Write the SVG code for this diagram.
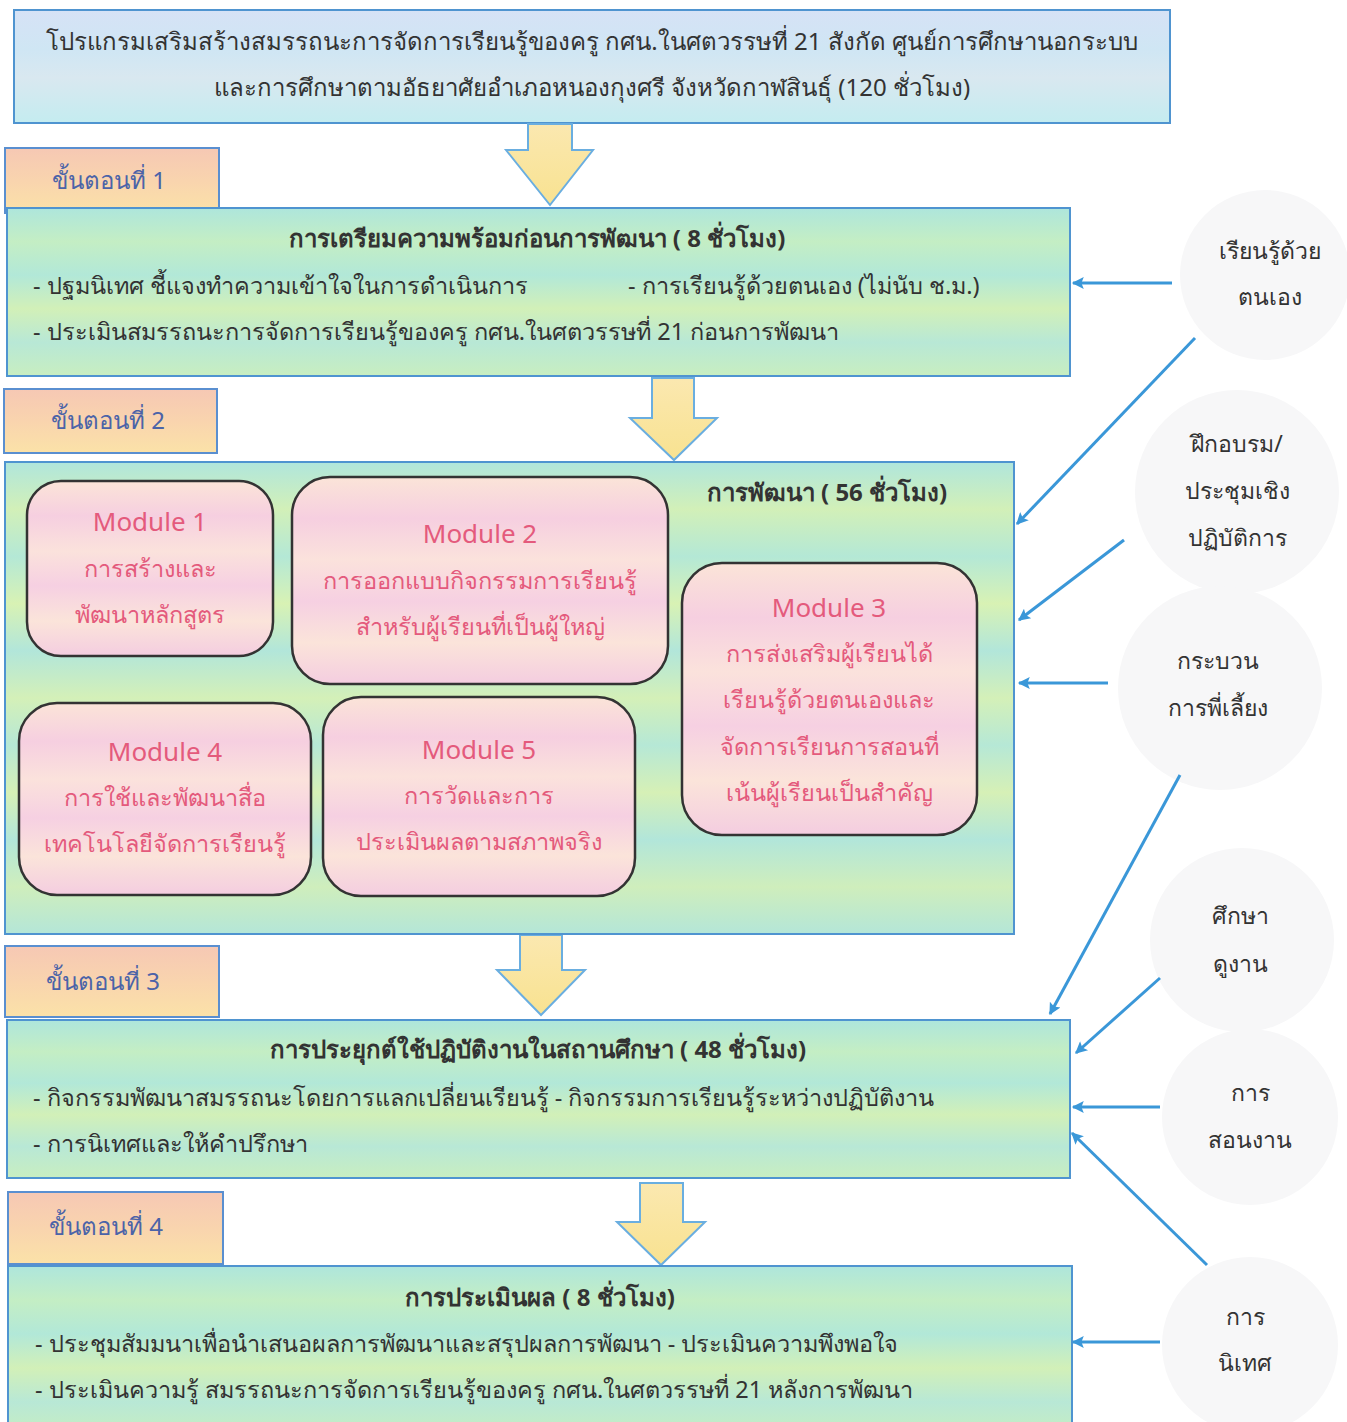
<svg xmlns="http://www.w3.org/2000/svg" width="1347" height="1422" viewBox="0 0 1347 1422">
<defs>
<linearGradient id="gTitle" x1="0" y1="0" x2="0" y2="1">
<stop offset="0" stop-color="#d6e2f6"/><stop offset="0.35" stop-color="#cfe6f4"/><stop offset="0.6" stop-color="#d9e8f0"/><stop offset="1" stop-color="#c4ecf0"/>
</linearGradient>
<linearGradient id="gBox" x1="0" y1="0" x2="0" y2="1">
<stop offset="0" stop-color="#aee6dc"/><stop offset="0.2" stop-color="#c4eec4"/><stop offset="0.4" stop-color="#b2e8d8"/><stop offset="0.6" stop-color="#d2f0b8"/><stop offset="0.8" stop-color="#b8e8d6"/><stop offset="1" stop-color="#c8eec0"/>
</linearGradient>
<linearGradient id="gBig" x1="0" y1="0" x2="0" y2="1">
<stop offset="0" stop-color="#b0e6dc"/><stop offset="0.1" stop-color="#d2f0b8"/><stop offset="0.2" stop-color="#b4e8d6"/><stop offset="0.3" stop-color="#d8f2b4"/><stop offset="0.4" stop-color="#b2e6da"/><stop offset="0.5" stop-color="#d4f0b8"/><stop offset="0.6" stop-color="#b6e8d6"/><stop offset="0.7" stop-color="#d6f0b6"/><stop offset="0.8" stop-color="#b2e6da"/><stop offset="0.9" stop-color="#cfeebc"/><stop offset="1" stop-color="#b4e6d8"/>
</linearGradient>
<linearGradient id="gMod" x1="0" y1="0" x2="0" y2="1">
<stop offset="0" stop-color="#fbe4d8"/><stop offset="0.2" stop-color="#f6cfe0"/><stop offset="0.4" stop-color="#fbe2dc"/><stop offset="0.6" stop-color="#f6d0e2"/><stop offset="0.8" stop-color="#fbe4da"/><stop offset="1" stop-color="#f4cde0"/>
</linearGradient>
<linearGradient id="gStage" x1="0" y1="0" x2="0" y2="1">
<stop offset="0" stop-color="#f6c8b4"/><stop offset="0.5" stop-color="#f9d4ae"/><stop offset="1" stop-color="#fbe2a8"/>
</linearGradient>
<linearGradient id="gArrow" x1="0" y1="0" x2="0" y2="1">
<stop offset="0" stop-color="#fbe8b0"/><stop offset="1" stop-color="#f8e290"/>
</linearGradient>
<marker id="ah2" viewBox="0 0 10 10" refX="9" refY="5" markerWidth="16" markerHeight="12" orient="auto" markerUnits="userSpaceOnUse">
<path d="M0,0 L10,5 L0,10 L2,5 z" fill="#3a97d8"/>
</marker>
</defs>
<style>
text{font-family:"Noto Sans","DejaVu Sans",sans-serif;}
.box{fill:url(#gBox);stroke:#4f94d0;stroke-width:2;}
.big{fill:url(#gBig);stroke:#4f94d0;stroke-width:2;}
.ttl{fill:url(#gTitle);stroke:#4f94d0;stroke-width:2;}
.stage{fill:url(#gStage);stroke:#5a8fd0;stroke-width:2;}
.mod{fill:url(#gMod);stroke:#333;stroke-width:2.5;}
.bar{fill:url(#gArrow);stroke:#6aaee0;stroke-width:2;}
.circ{fill:#f7f7f8;}
.t{font-size:23.5px;fill:#333;}
.tc{font-size:24px;fill:#333;text-anchor:middle;}
.h{font-size:24px;font-weight:bold;fill:#333;text-anchor:middle;}
.st{font-size:24px;fill:#4b63a8;}
.mt{font-size:23.5px;fill:#e45a7c;text-anchor:middle;}
.mh{font-size:26px;fill:#e45a7c;text-anchor:middle;}
.ct{font-size:23px;fill:#333;text-anchor:middle;}
.con{stroke:#3a97d8;stroke-width:3;fill:none;marker-end:url(#ah2);}
</style>
<rect width="1347" height="1422" fill="#ffffff"/>

<g id="title">
<rect class="ttl" x="14" y="10" width="1156" height="113"/>
<text class="tc" x="592" y="50">โปรแกรมเสริมสร้างสมรรถนะการจัดการเรียนรู้ของครู กศน.ในศตวรรษที่ 21 สังกัด ศูนย์การศึกษานอกระบบ</text>
<text class="tc" x="592" y="96">และการศึกษาตามอัธยาศัยอำเภอหนองกุงศรี จังหวัดกาฬสินธุ์  (120 ชั่วโมง)</text>
</g>

<g id="flow-arrows">
<path class="bar" d="M528,124 L572,124 L572,150 L593,150 L550,205 L506,150 L528,150 z"/>
<path class="bar" d="M652,378 L694,378 L694,418 L717,418 L674,460 L630,418 L652,418 z"/>
<path class="bar" d="M520,935 L562,935 L562,970 L585,970 L541,1015 L497,970 L520,970 z"/>
<path class="bar" d="M640,1183 L683,1183 L683,1222 L705,1222 L661,1265 L617,1222 L640,1222 z"/>
</g>

<g id="stage1-label">
<rect class="stage" x="5" y="148" width="214" height="65"/>
<text class="st" x="52" y="189">ขั้นตอนที่ 1</text>
</g>
<g id="stage1">
<rect class="box" x="7" y="208" width="1063" height="168"/>
<text class="h" x="537" y="247">การเตรียมความพร้อมก่อนการพัฒนา ( 8 ชั่วโมง)</text>
<text class="t" x="33" y="294">- ปฐมนิเทศ ชี้แจงทำความเข้าใจในการดำเนินการ</text>
<text class="t" x="628" y="294">- การเรียนรู้ด้วยตนเอง (ไม่นับ ช.ม.)</text>
<text class="t" x="33" y="340">- ประเมินสมรรถนะการจัดการเรียนรู้ของครู กศน.ในศตวรรษที่ 21 ก่อนการพัฒนา</text>
</g>

<g id="stage2-label">
<rect class="stage" x="4" y="389" width="213" height="64"/>
<text class="st" x="51" y="429">ขั้นตอนที่ 2</text>
</g>
<g id="stage2">
<rect class="big" x="5" y="462" width="1009" height="472"/>
<text class="h" x="827" y="501">การพัฒนา ( 56 ชั่วโมง)</text>
</g>
<g id="module1">
<rect class="mod" x="27" y="481" width="246" height="175" rx="34"/>
<text class="mh" x="150" y="531">Module 1</text>
<text class="mt" x="150" y="577">การสร้างและ</text>
<text class="mt" x="150" y="623">พัฒนาหลักสูตร</text>
</g>
<g id="module2">
<rect class="mod" x="292" y="477" width="376" height="207" rx="38"/>
<text class="mh" x="480" y="543">Module 2</text>
<text class="mt" x="480" y="589">การออกแบบกิจกรรมการเรียนรู้</text>
<text class="mt" x="480" y="635">สำหรับผู้เรียนที่เป็นผู้ใหญ่</text>
</g>
<g id="module3">
<rect class="mod" x="682" y="563" width="295" height="272" rx="40"/>
<text class="mh" x="829" y="617">Module 3</text>
<text class="mt" x="829" y="662">การส่งเสริมผู้เรียนได้</text>
<text class="mt" x="829" y="708">เรียนรู้ด้วยตนเองและ</text>
<text class="mt" x="829" y="755">จัดการเรียนการสอนที่</text>
<text class="mt" x="829" y="801">เน้นผู้เรียนเป็นสำคัญ</text>
</g>
<g id="module4">
<rect class="mod" x="19" y="703" width="292" height="192" rx="38"/>
<text class="mh" x="165" y="761">Module 4</text>
<text class="mt" x="165" y="806">การใช้และพัฒนาสื่อ</text>
<text class="mt" x="165" y="852">เทคโนโลยีจัดการเรียนรู้</text>
</g>
<g id="module5">
<rect class="mod" x="323" y="697" width="312" height="199" rx="38"/>
<text class="mh" x="479" y="759">Module 5</text>
<text class="mt" x="479" y="804">การวัดและการ</text>
<text class="mt" x="479" y="850">ประเมินผลตามสภาพจริง</text>
</g>

<g id="stage3-label">
<rect class="stage" x="5" y="946" width="214" height="71"/>
<text class="st" x="46" y="990">ขั้นตอนที่ 3</text>
</g>
<g id="stage3">
<rect class="box" x="7" y="1020" width="1063" height="158"/>
<text class="h" x="538" y="1058">การประยุกต์ใช้ปฏิบัติงานในสถานศึกษา ( 48 ชั่วโมง)</text>
<text class="t" x="33" y="1106">- กิจกรรมพัฒนาสมรรถนะโดยการแลกเปลี่ยนเรียนรู้  - กิจกรรมการเรียนรู้ระหว่างปฏิบัติงาน</text>
<text class="t" x="33" y="1152">- การนิเทศและให้คำปรึกษา</text>
</g>

<g id="stage4-label">
<rect class="stage" x="8" y="1192" width="215" height="72"/>
<text class="st" x="49" y="1235">ขั้นตอนที่ 4</text>
</g>
<g id="stage4">
<rect class="box" x="8" y="1266" width="1064" height="170"/>
<text class="h" x="540" y="1306">การประเมินผล ( 8 ชั่วโมง)</text>
<text class="t" x="35" y="1352">- ประชุมสัมมนาเพื่อนำเสนอผลการพัฒนาและสรุปผลการพัฒนา  - ประเมินความพึงพอใจ</text>
<text class="t" x="35" y="1398">- ประเมินความรู้ สมรรถนะการจัดการเรียนรู้ของครู กศน.ในศตวรรษที่ 21 หลังการพัฒนา</text>
</g>

<g id="c-self">
<circle class="circ" cx="1265" cy="275" r="85"/>
<text class="ct" x="1270" y="259">เรียนรู้ด้วย</text>
<text class="ct" x="1270" y="305">ตนเอง</text>
</g>
<g id="c-training">
<circle class="circ" cx="1237" cy="492" r="102"/>
<text class="ct" x="1237" y="452">ฝึกอบรม/</text>
<text class="ct" x="1237" y="499">ประชุมเชิง</text>
<text class="ct" x="1237" y="546">ปฏิบัติการ</text>
</g>
<g id="c-mentor">
<circle class="circ" cx="1220" cy="688" r="102"/>
<text class="ct" x="1218" y="669">กระบวน</text>
<text class="ct" x="1218" y="716">การพี่เลี้ยง</text>
</g>
<g id="c-visit">
<circle class="circ" cx="1242" cy="940" r="92"/>
<text class="ct" x="1240" y="924">ศึกษา</text>
<text class="ct" x="1240" y="972">ดูงาน</text>
</g>
<g id="c-coach">
<circle class="circ" cx="1250" cy="1117" r="88"/>
<text class="ct" x="1250" y="1101">การ</text>
<text class="ct" x="1250" y="1148">สอนงาน</text>
</g>
<g id="c-supervise">
<circle class="circ" cx="1250" cy="1345" r="88"/>
<text class="ct" x="1245" y="1325">การ</text>
<text class="ct" x="1245" y="1371">นิเทศ</text>
</g>

<g id="connectors">
<line class="con" x1="1172" y1="283" x2="1073" y2="283"/>
<line class="con" x1="1195" y1="338" x2="1017" y2="524"/>
<line class="con" x1="1124" y1="540" x2="1019" y2="620"/>
<line class="con" x1="1108" y1="683" x2="1019" y2="683"/>
<line class="con" x1="1180" y1="775" x2="1050" y2="1014"/>
<line class="con" x1="1160" y1="978" x2="1076" y2="1053"/>
<line class="con" x1="1160" y1="1107" x2="1073" y2="1107"/>
<line class="con" x1="1207" y1="1265" x2="1072" y2="1133"/>
<line class="con" x1="1160" y1="1342" x2="1073" y2="1342"/>
</g>
</svg>
